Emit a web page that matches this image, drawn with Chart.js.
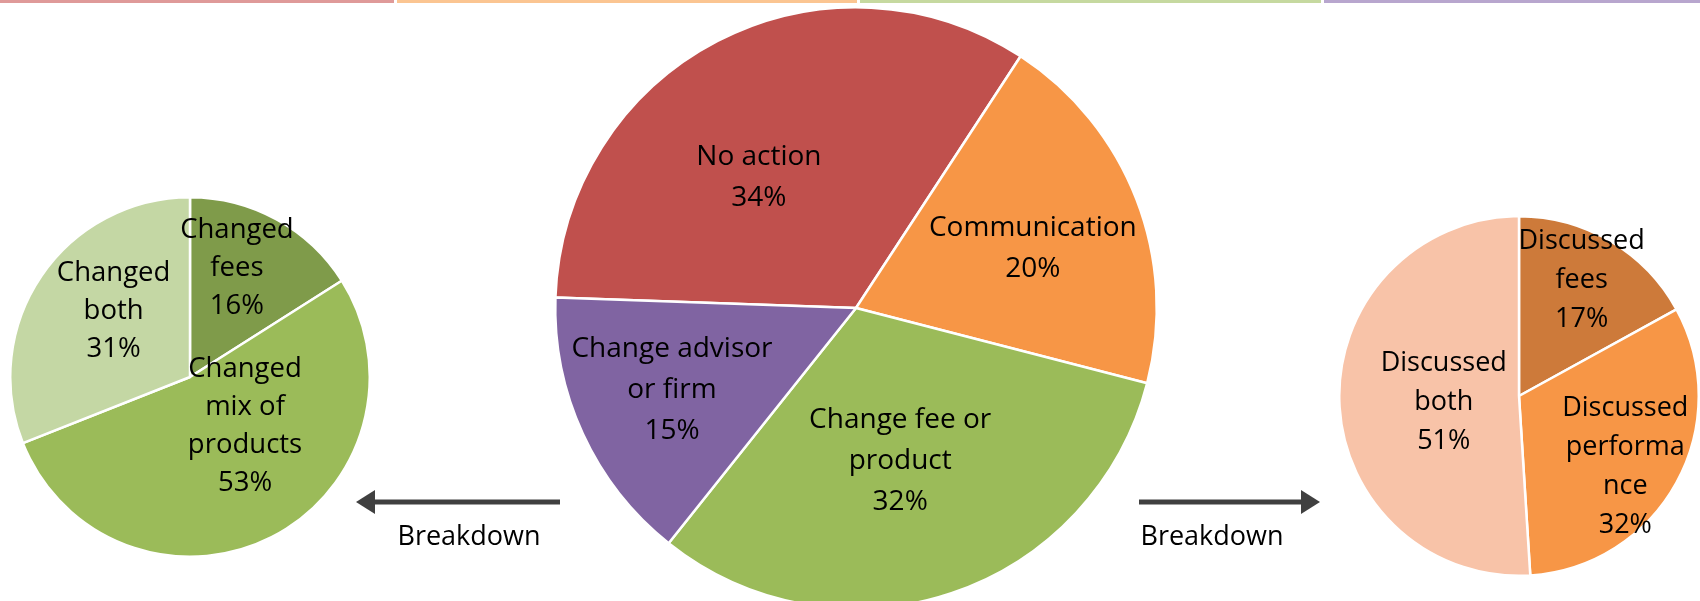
<!DOCTYPE html>
<html>
<head>
<meta charset="utf-8">
<script src="https://cdn.jsdelivr.net/npm/chart.js@4.4.1/dist/chart.umd.min.js"></script>
<style>
    html, body { margin: 0; padding: 0; background: #ffffff; }
    body { width: 1700px; height: 601px; overflow: hidden; position: relative; }
    .box { position: absolute; }
    #mainBox { left: 0; top: 0; width: 1700px; height: 640px; }
    #feeBox { left: 9px; top: 196px; width: 362px; height: 362px; }
    #commBox { left: 1338px; top: 215px; width: 362px; height: 362px; }
</style>
</head>
<body>
<div class="box" id="mainBox"><canvas id="mainChart"></canvas></div>
<div class="box" id="feeBox"><canvas id="feeChart"></canvas></div>
<div class="box" id="commBox"><canvas id="commChart"></canvas></div>

<script>
// --- datos ---
const mainLabels = [['No action'], ['Communication'], ['Change fee or', 'product'], ['Change advisor', 'or firm']];
const mainValues = [34, 20, 32, 15];

const feeLabels = [['Changed', 'fees'], ['Changed', 'mix of', 'products'], ['Changed', 'both']];
const feeValues = [16, 53, 31];

const commLabels = [['Discussed', 'fees'], ['Discussed', 'performa', 'nce'], ['Discussed', 'both']];
const commValues = [17, 32, 51];

const breakdownText = 'Breakdown';

// --- estilos ---
const mainColors = ['#C0504D', '#F79646', '#9BBB59', '#8064A2'];
const feeColors = ['#7F9B4A', '#9BBB59', '#C4D7A4'];
const commColors = ['#CD7A3A', '#F79646', '#F8C3A8'];
const stripColors = ['#DF9A99', '#FBC592', '#C6D9A0', '#B8A6CE'];

const FONT_FAMILY = '"Open Sans", "Noto Sans", sans-serif';

// posición de cada etiqueta: distancia relativa al radio y giro (grados) respecto al ángulo medio
const mainLabelPos = [0.54, 0.62, 0.53, 0.67];
const mainLabelTurn = [-9.3, 2.7, 2.4, 0.7];
const feeLabelPos = [0.66, 0.41, 0.56];
const feeLabelTurn = [-5.5, -21.3, 6.4];
const commLabelPos = [0.73, 0.71, 0.42];
const commLabelTurn = [-2.1, 4.8, -2.7];

// Plugin: etiquetas dentro de cada porción (nombre + porcentaje)
const sliceLabels = {
    id: 'sliceLabels',
    afterDatasetsDraw(chart, args, opts) {
        const ctx = chart.ctx;
        const meta = chart.getDatasetMeta(0);
        const values = chart.data.datasets[0].data;
        const total = values.reduce((a, b) => a + b, 0);
        ctx.save();
        ctx.font = opts.fontSize + 'px ' + FONT_FAMILY;
        ctx.fillStyle = '#000000';
        ctx.textAlign = 'center';
        ctx.textBaseline = 'middle';
        meta.data.forEach((arc, i) => {
            const p = arc.getProps(['x', 'y', 'startAngle', 'endAngle', 'outerRadius'], true);
            const mid = (p.startAngle + p.endAngle) / 2 + opts.turn[i] * Math.PI / 180;
            const r = p.outerRadius * opts.pos[i];
            const cx = p.x + Math.cos(mid) * r;
            const cy = p.y + Math.sin(mid) * r;
            const lines = chart.data.labels[i].concat([Math.round(values[i] / total * 100) + '%']);
            const y0 = cy - (lines.length - 1) * opts.lineHeight / 2;
            lines.forEach((txt, k) => ctx.fillText(txt, cx, y0 + k * opts.lineHeight));
        });
        ctx.restore();
    }
};

// Plugin: franjas superiores, flechas y texto "Breakdown"
const decorations = {
    id: 'decorations',
    afterDraw(chart) {
        const ctx = chart.ctx;
        ctx.save();
        // franjas de color arriba
        const segs = [[0, 394], [397, 857], [860, 1321], [1324, 1700]];
        segs.forEach((s, i) => {
            ctx.fillStyle = stripColors[i];
            ctx.fillRect(s[0], 0, s[1] - s[0], 3);
        });

        function arrow(x1, x2, y) {
            const dir = Math.sign(x2 - x1);
            const headLen = 19;
            ctx.strokeStyle = '#404040';
            ctx.fillStyle = '#404040';
            ctx.lineWidth = 5;
            ctx.beginPath();
            ctx.moveTo(x1, y);
            ctx.lineTo(x2 - dir * headLen, y);
            ctx.stroke();
            ctx.beginPath();
            ctx.moveTo(x2, y);
            ctx.lineTo(x2 - dir * headLen, y - 12);
            ctx.lineTo(x2 - dir * headLen, y + 12);
            ctx.closePath();
            ctx.fill();
        }
        arrow(560, 356, 502);
        arrow(1139, 1320, 502);

        ctx.font = '27px ' + FONT_FAMILY;
        ctx.fillStyle = '#000000';
        ctx.textAlign = 'center';
        ctx.textBaseline = 'middle';
        ctx.fillText(breakdownText, 469, 537);
        ctx.fillText(breakdownText, 1212, 537);
        ctx.restore();
    }
};

function makePie(canvasId, labels, values, colors, labelOpts, rotation, padding, extraPlugins) {
    return new Chart(document.getElementById(canvasId), {
        type: 'pie',
        data: {
            labels: labels,
            datasets: [{
                data: values,
                backgroundColor: colors,
                borderColor: '#ffffff',
                borderWidth: 2.5
            }]
        },
        options: {
            responsive: true,
            maintainAspectRatio: false,
            animation: false,
            rotation: rotation,
            layout: { padding: padding },
            plugins: {
                legend: { display: false },
                tooltip: { enabled: false },
                sliceLabels: labelOpts
            }
        },
        plugins: [sliceLabels].concat(extraPlugins || [])
    });
}

makePie('mainChart', mainLabels, mainValues, mainColors,
    { pos: mainLabelPos, turn: mainLabelTurn, fontSize: 28, lineHeight: 41 }, -88,
    { left: 554, right: 542, top: 6, bottom: 30 }, [decorations]);
makePie('feeChart', feeLabels, feeValues, feeColors,
    { pos: feeLabelPos, turn: feeLabelTurn, fontSize: 27.5, lineHeight: 38 }, 0, 0);
makePie('commChart', commLabels, commValues, commColors,
    { pos: commLabelPos, turn: commLabelTurn, fontSize: 27, lineHeight: 39 }, 0, 0);
</script>
</body>
</html>
